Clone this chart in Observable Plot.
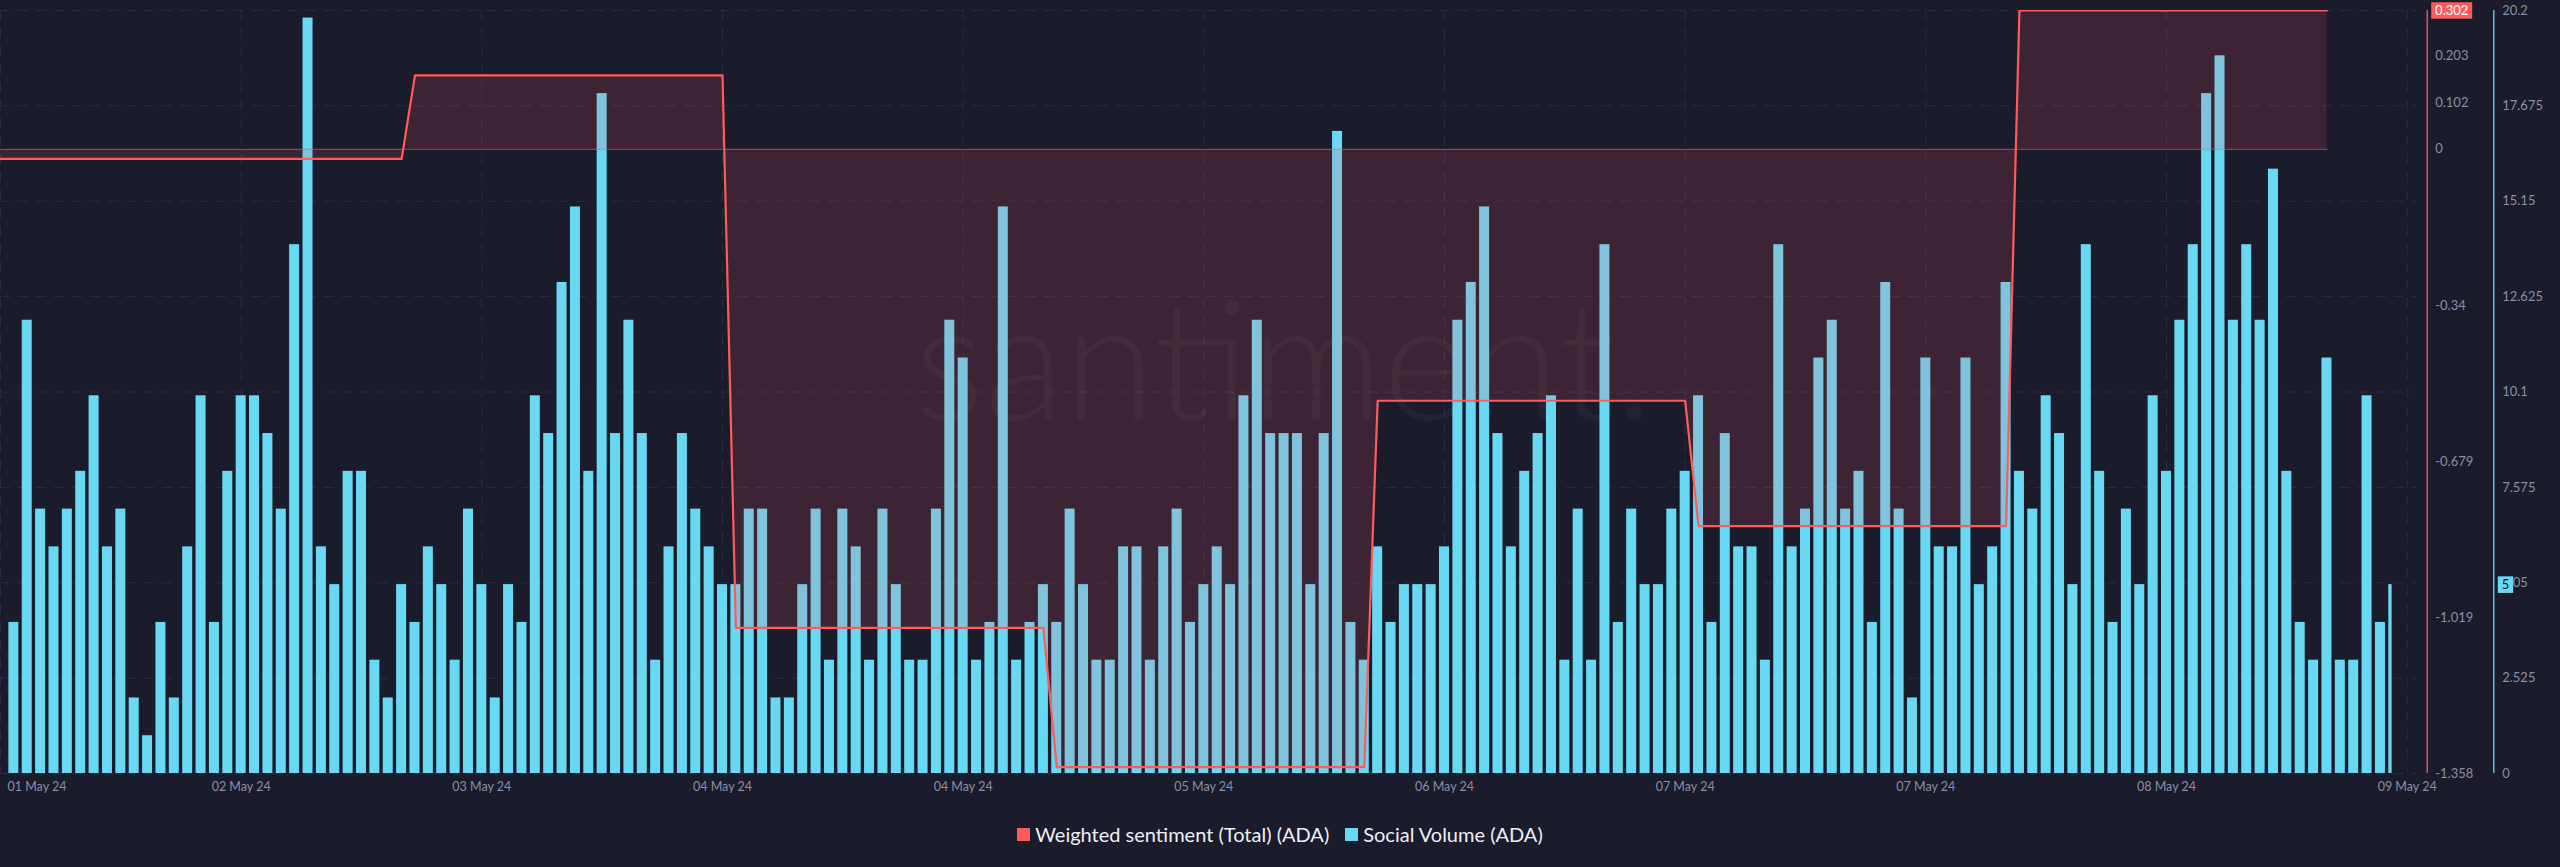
<!DOCTYPE html>
<html>
<head>
<meta charset="utf-8">
<script src="https://cdn.jsdelivr.net/npm/d3@7"></script>
<script src="https://cdn.jsdelivr.net/npm/@observablehq/plot@0.6"></script>
<style>
  html, body { margin: 0; padding: 0; background: #1a1b2b; }
  body { width: 2560px; height: 867px; overflow: hidden; font-family: Lato, "Open Sans", sans-serif; }
  #chart svg { display: block; }
  #legend { display: flex; justify-content: center; align-items: center; height: 44px; color: #eef0f5; font-size: 20px; }
  #legend .item { display: flex; align-items: center; margin: 0 8px; }
  #legend .sw { width: 13px; height: 13px; margin-right: 5px; }
</style>
</head>
<body>
<div id="chart"></div>
<div id="legend"></div>
<script>
// ---------- data ----------
const seriesNames = ["Weighted sentiment (Total) (ADA)", "Social Volume (ADA)"];
const seriesColors = ["#ff5b5b", "#69d9f3"];

// Social Volume (ADA), hourly, first bar 01 May 18:00
const volume = [
  4,12,7,6,7,8,10,6,7,2,1,4,2,6,10,4,8,10,10,9,7,14,20,6,5,8,8,3,2,5,4,6,5,3,7,5,
  2,5,4,10,9,13,15,8,18,9,12,9,3,6,9,7,6,5,5,7,7,2,2,5,7,3,7,6,3,7,5,3,3,7,12,11,
  3,4,15,3,4,5,4,7,5,3,3,6,6,3,6,7,4,5,6,5,10,12,9,9,9,5,9,17,4,3,6,4,5,5,5,6,
  12,13,15,9,6,8,9,10,3,7,3,14,4,7,5,5,7,8,10,4,9,6,6,3,14,6,7,11,12,7,8,4,13,7,2,11,
  6,6,11,5,6,13,8,7,10,9,5,14,8,4,7,5,10,8,12,14,18,19,12,14,12,16,8,4,3,11,3,3,10,4,5
];

// Weighted sentiment (Total) (ADA), daily
const sentimentDays = [1, 2, 3, 4, 5, 6, 7, 8]; // day of May 2024
const sentimentValues = [-0.021, -0.021, 0.161, -1.041, -1.344, -0.547, -0.820, 0.302];

const xTickLabels = ["01 May 24","02 May 24","03 May 24","04 May 24","04 May 24","05 May 24","06 May 24","07 May 24","07 May 24","08 May 24","09 May 24"];
const volumeTicks = [0, 2.525, 5.05, 7.575, 10.1, 12.625, 15.15, 17.675, 20.2];
const sentimentTicks = [-1.358, -1.019, -0.679, -0.34, 0, 0.102, 0.203];
const sentimentDomain = [-1.358, 0.302];
const volumeDomain = [0, 20.2];

// ---------- derived tables ----------
const HOUR = 3600e3;
const firstBar = Date.UTC(2024, 4, 1, 18);
const lastBar = firstBar + (volume.length - 1) * HOUR;
const bars = volume.map((v, i) => ({ date: new Date(firstBar + i * HOUR), v }));

const D0 = new Date(firstBar - HOUR);
const D1 = new Date(+D0 + 180.75 * HOUR);
const xTicks = xTickLabels.map((_, k) => new Date(+D0 + k * 18 * HOUR));
const xLabelByTime = new Map(xTicks.map((d, k) => [+d, xTickLabels[k]]));

// map sentiment onto the volume axis (dual axis)
const toVol = s => (s - sentimentDomain[0]) / (sentimentDomain[1] - sentimentDomain[0]) * (volumeDomain[1] - volumeDomain[0]) + volumeDomain[0];
const sentTickPos = sentimentTicks.map(toVol);
const sentLabelByPos = new Map(sentimentTicks.map(s => [toVol(s), String(s)]));

const sentLine = [];
sentimentDays.forEach((day, k) => {
  const start = Date.UTC(2024, 4, day);
  sentLine.push({ date: new Date(start), s: sentimentValues[k] });
  sentLine.push({ date: new Date(start + 23 * HOUR), s: sentimentValues[k] });
});

const lastSent = sentimentValues[sentimentValues.length - 1];
const lastVol = volume[volume.length - 1];

const boxSymbol = (w, h) => ({
  draw(ctx) {
    ctx.moveTo(-w / 2, -h / 2); ctx.lineTo(w / 2, -h / 2);
    ctx.lineTo(w / 2, h / 2); ctx.lineTo(-w / 2, h / 2); ctx.closePath();
  }
});

const gridColor = "#2a2d40";
const tickColor = "#8a8fa3";

const chart = Plot.plot({
  width: 2560,
  height: 812,
  marginLeft: 0,
  marginRight: 143.3,
  marginTop: 10,
  marginBottom: 39,
  style: { background: "transparent", fontFamily: "Lato, 'Open Sans', sans-serif", fontSize: "13px", color: tickColor },
  x: { type: "utc", domain: [D0, D1], label: null },
  y: { domain: volumeDomain, label: null },
  marks: [
    // grid
    Plot.ruleY(volumeTicks, { stroke: gridColor, strokeDasharray: "10,8", strokeWidth: 1 }),
    Plot.ruleX(xTicks, { stroke: gridColor, strokeDasharray: "10,8", strokeWidth: 1 }),
    // watermark
    Plot.text(["santiment."], { frameAnchor: "middle", dx: 75, dy: -25, fontSize: 165, fontWeight: 300, fontFamily: "Lato", fill: "#ffffff", fillOpacity: 0.04 }),
    // social volume bars
    Plot.rectY(bars, {
      x1: d => new Date(+d.date - HOUR / 2),
      x2: d => new Date(Math.min(+d.date + HOUR / 2, lastBar)),
      y: "v",
      fill: seriesColors[1],
      insetLeft: 1.68, insetRight: 1.68
    }),
    // sentiment area and lines
    Plot.areaY(sentLine, { x: "date", y1: toVol(0), y2: d => toVol(d.s), fill: "#f05a64", fillOpacity: 0.16, clip: true }),
    Plot.lineY(sentLine, { x: "date", y: () => toVol(0), stroke: seriesColors[0], strokeOpacity: 0.65, strokeWidth: 1, clip: true }),
    Plot.line(sentLine, { x: "date", y: d => toVol(d.s), stroke: seriesColors[0], strokeWidth: 2.2, clip: true }),
    // x axis
    Plot.axisX(xTicks.slice(1), { label: null, tickSize: 0, tickPadding: 9, tickFormat: d => xLabelByTime.get(+d), fill: tickColor, fontSize: 12.5 }),
    Plot.axisX(xTicks.slice(0, 1), { label: null, tickSize: 0, tickPadding: 9, tickFormat: d => xLabelByTime.get(+d), textAnchor: "start", dx: 7, fill: tickColor, fontSize: 12.5 }),
    // sentiment axis (right, inner)
    Plot.ruleX([D1], { dx: 10, stroke: seriesColors[0], strokeWidth: 1.3 }),
    Plot.axisY(sentTickPos, { label: null, anchor: "right", tickSize: 0, tickPadding: 18, tickFormat: d => sentLabelByPos.get(d), fill: tickColor, fontSize: 13 }),
    // volume axis (right, outer)
    Plot.ruleX([D1], { dx: 76.6, stroke: seriesColors[1], strokeWidth: 1.3 }),
    Plot.axisY(volumeTicks, { label: null, anchor: "right", tickSize: 0, tickPadding: 85, tickFormat: d => String(d), fill: tickColor, fontSize: 13 }),
    // last value markers
    Plot.dot([lastSent], { y: d => toVol(d), frameAnchor: "right", dx: 34.5, symbol: boxSymbol(41, 16.6), fill: seriesColors[0], stroke: null }),
    Plot.text([lastSent], { y: d => toVol(d), frameAnchor: "right", dx: 34.5, textAnchor: "middle", text: d => String(d), fill: "#ffffff", fontSize: 13 }),
    Plot.dot([lastVol], { y: d => d, frameAnchor: "right", dx: 88.3, symbol: boxSymbol(15.4, 16.6), fill: seriesColors[1], stroke: null }),
    Plot.text([lastVol], { y: d => d, frameAnchor: "right", dx: 88.3, textAnchor: "middle", text: d => String(d), fill: "#10131d", fontSize: 13 })
  ]
});
document.getElementById("chart").appendChild(chart);

// legend
const legend = document.getElementById("legend");
seriesNames.forEach((name, i) => {
  const item = document.createElement("div");
  item.className = "item";
  const sw = document.createElement("span");
  sw.className = "sw";
  sw.style.background = seriesColors[i];
  const label = document.createElement("span");
  label.textContent = name;
  item.appendChild(sw);
  item.appendChild(label);
  legend.appendChild(item);
});
</script>
</body>
</html>
